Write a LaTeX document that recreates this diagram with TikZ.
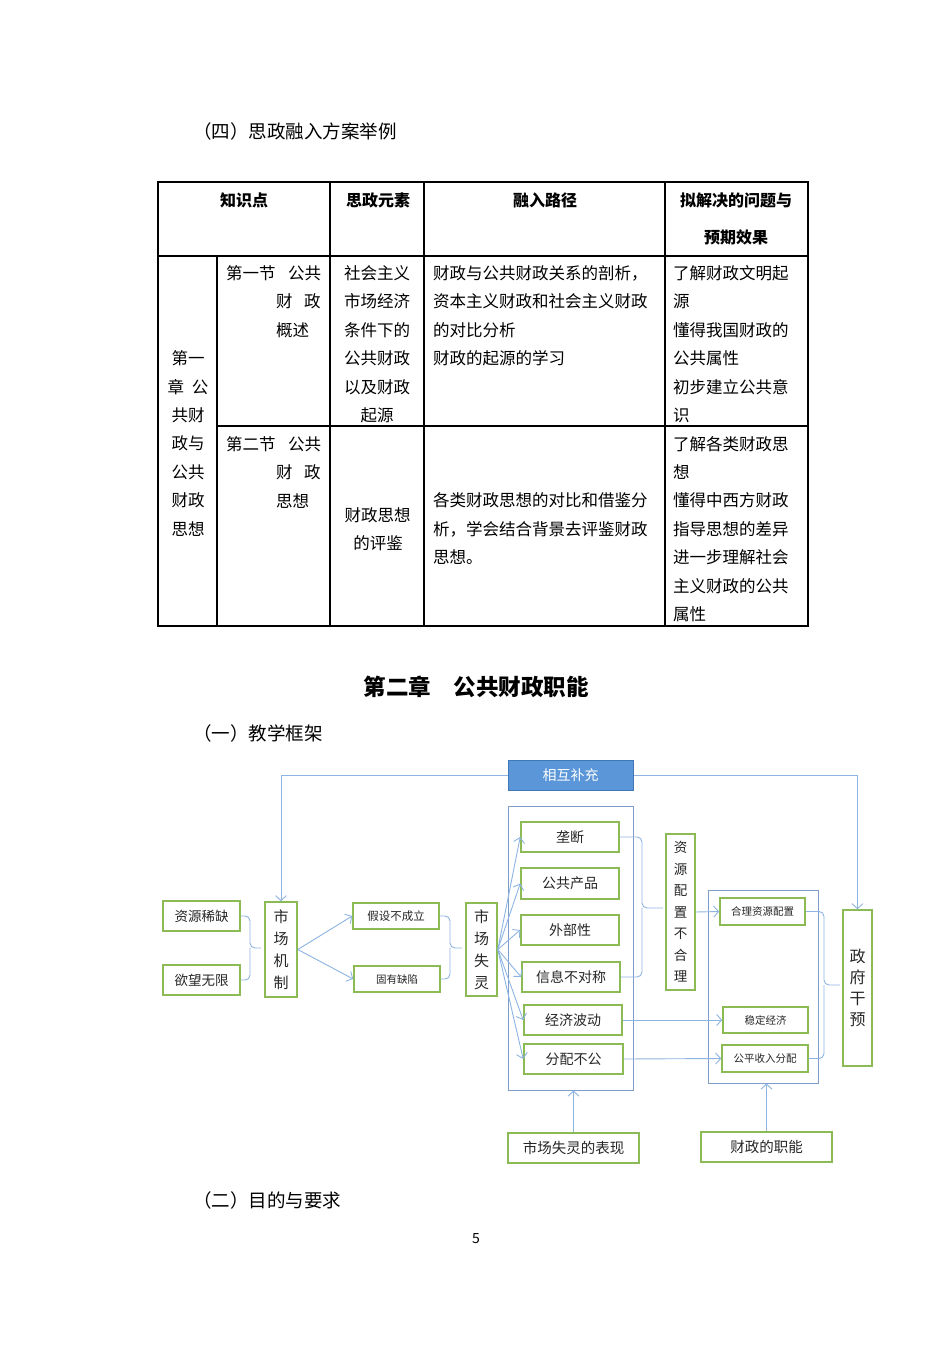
\documentclass[tikz,border=0pt]{standalone}
\usepackage{fontspec}
\usepackage{tikz}
\usetikzlibrary{arrows.meta,positioning,calc}
\setmainfont{Noto Sans CJK SC}
\definecolor{pfLine}{HTML}{8EB4E3}
\definecolor{pfFrame}{HTML}{7F9DC9}
\definecolor{pfGreen}{HTML}{8CBA55}
\definecolor{pfFill}{HTML}{5A96D8}
\definecolor{pfFillEdge}{HTML}{3F78B5}
\definecolor{pfText}{HTML}{262626}
\tikzset{
  pfbox/.style={draw=pfGreen,line width=1.6pt,fill=white,text=pfText,inner sep=0pt,align=center,
                font=\fontsize{14}{16}\selectfont},
  pfsmall/.style={pfbox,font=\fontsize{10.5}{12}\selectfont},
  pfvert/.style={pfbox,font=\fontsize{15}{22}\selectfont},
  pfframe/.style={draw=pfFrame,line width=1pt,inner sep=0pt},
  pftop/.style={draw=pfFillEdge,fill=pfFill,line width=1pt,text=white,inner sep=0pt,
                font=\fontsize{14}{16}\selectfont},
  pfflow/.style={-{Straight Barb[length=5pt,width=11pt]},draw=pfLine,line width=0.9pt},
  pfbrace/.style={draw=pfLine,line width=0.9pt,rounded corners=5pt},
  pfcell/.style={inner sep=0pt,text=black,font=\fontsize{16.5}{18}\selectfont},
  pfhead/.style={pfcell,font=\fontsize{16}{18}\selectfont\bfseries},
  pfpara/.style={inner sep=0pt,text=black,anchor=west,font=\fontsize{18.5}{20}\selectfont},
  pfrule/.style={line width=1.3pt,draw=black},
}

\begin{document}
\begin{tikzpicture}[x=1pt,y=-1pt]
  \fill[white] (0,0) rectangle (952,1347);
  \useasboundingbox (0,0) rectangle (952,1347);

  % section heading
  \node[pfpara] (sec4) at (193,131) {（四）思政融入方案举例};

  % table rules
  \draw[pfrule] (158,182) rectangle (808,626);
  \draw[pfrule] (158,256) -- (808,256);
  \draw[pfrule] (217,426) -- (808,426);
  \draw[pfrule] (217,256) -- (217,626);
  \foreach \x in {330,424,665}{\draw[pfrule] (\x,182) -- (\x,626);}
  \draw[line width=2.2pt] (158,626) -- (808,626);

  % table header
  \node[pfhead] (h1) at (244,200) {知识点};
  \node[pfhead] (h2) at (378,200) {思政元素};
  \node[pfhead] (h3) at (545,200) {融入路径};
  \node[pfhead] (h4) at (736,200) {拟解决的问题与};
  \node[pfhead] (h5) at (736,237) {预期效果};

  % table body
  \foreach \t [count=\i from 3] in {第一,章\hspace{8pt}公,共财,政与,公共,财政,思想}
    {\node[pfcell] (ch\i) at (188,273+28.45*\i) {\t};}
  \node[pfcell,anchor=west] (s1a) at (226,273) {第一节\hspace{12.5pt}公共};
  \node[pfcell,anchor=west] (s1b) at (276,301.45) {财\hspace{11.5pt}政};
  \node[pfcell,anchor=west] (s1c) at (276,329.9) {概述};
  \node[pfcell,anchor=west] (s2a) at (226,443.7) {第二节\hspace{12.5pt}公共};
  \node[pfcell,anchor=west] (s2b) at (276,472.15) {财\hspace{11.5pt}政};
  \node[pfcell,anchor=west] (s2c) at (276,500.6) {思想};
  \foreach \t [count=\i from 0] in {社会主义,市场经济,条件下的,公共财政,以及财政,起源}
    {\node[pfcell] (el\i) at (377,273+28.45*\i) {\t};}
  \node[pfcell] (el6) at (377.5,515) {财政思想};
  \node[pfcell] (el7) at (378,543) {的评鉴};
  \foreach \t [count=\i from 0] in {财政与公共财政关系的剖析，,资本主义财政和社会主义财政,的对比分析,财政的起源的学习}
    {\node[pfcell,anchor=west] (pa\i) at (433,273+28.45*\i) {\t};}
  \foreach \t [count=\i from 8] in {各类财政思想的对比和借鉴分,析，学会结合背景去评鉴财政,思想。}
    {\node[pfcell,anchor=west] (pa\i) at (433,273+28.45*\i) {\t};}
  \foreach \t [count=\i from 0] in {了解财政文明起,源,懂得我国财政的,公共属性,初步建立公共意,识,
      了解各类财政思,想,懂得中西方财政,指导思想的差异,进一步理解社会,主义财政的公共,属性}
    {\node[pfcell,anchor=west] (ef\i) at (673,273+28.45*\i) {\t};}

  % chapter title
  \node[inner sep=0pt,font=\fontsize{22.5}{24}\selectfont\bfseries] (title) at (476,687) {第二章　公共财政职能};
  \node[pfpara] (sec1) at (193,733) {（一）教学框架};

  % framework diagram
  \node[pftop,minimum width=125pt,minimum height=30pt] (mutual) at (570.5,775) {相互补充};
  \node[pfbox,font=\fontsize{13.5}{15}\selectfont,minimum width=77pt,minimum height=30pt] (scarce) at (201.5,916) {资源稀缺};
  \node[pfbox,font=\fontsize{13.5}{15}\selectfont,minimum width=77pt,minimum height=30pt] (desire) at (201.5,980) {欲望无限};
  \node[pfvert,minimum width=32pt,minimum height=95pt] (mech) at (281,949.5) {市\\场\\机\\制};
  \node[pfsmall,font=\fontsize{11.5}{13}\selectfont,minimum width=86pt,minimum height=26pt] (assume) at (396,916) {假设不成立};
  \node[pfsmall,minimum width=86pt,minimum height=26pt] (defect) at (397,979) {固有缺陷};
  \node[pfvert,minimum width=31pt,minimum height=93pt] (fail) at (481.5,949.5) {市\\场\\失\\灵};

  \node[pfframe,minimum width=125pt,minimum height=284pt] (failouter) at (570.5,948) {};
  \node[pfbox,minimum width=98pt,minimum height=30pt] (mono) at (570,837) {垄断};
  \node[pfbox,minimum width=98pt,minimum height=31pt] (pubgood) at (570,883.5) {公共产品};
  \node[pfbox,minimum width=98pt,minimum height=30pt] (extern) at (570,930) {外部性};
  \node[pfbox,minimum width=98pt,minimum height=30pt] (info) at (571,977) {信息不对称};
  \node[pfbox,minimum width=98pt,minimum height=30pt] (cycle) at (573,1020) {经济波动};
  \node[pfbox,minimum width=99pt,minimum height=30pt] (distrib) at (573.5,1059) {分配不公};

  \node[pfvert,font=\fontsize{13.5}{21.5}\selectfont,minimum width=29pt,minimum height=156pt] (misalloc) at (680.5,912) {资\\源\\配\\置\\不\\合\\理};

  \node[pfframe,minimum width=110pt,minimum height=193pt] (funcouter) at (763,986.5) {};
  \node[pfsmall,minimum width=85pt,minimum height=27pt] (alloc) at (762.5,911.5) {合理资源配置};
  \node[pfsmall,minimum width=85pt,minimum height=26pt] (stabil) at (765.5,1020) {稳定经济};
  \node[pfsmall,minimum width=86pt,minimum height=27pt] (equity) at (765,1058.5) {公平收入分配};

  \node[pfvert,font=\fontsize{16}{21}\selectfont,minimum width=29pt,minimum height=156pt] (govt) at (857.5,988) {政\\府\\干\\预};
  \node[pfbox,font=\fontsize{14.5}{16}\selectfont,minimum width=131pt,minimum height=30pt] (failshow) at (573.5,1148) {市场失灵的表现};
  \node[pfbox,font=\fontsize{14.5}{16}\selectfont,minimum width=131pt,minimum height=30pt] (funcshow) at (766.5,1147) {财政的职能};

  \draw[pfflow] (mutual.west) -| (mech.north);
  \draw[pfflow] (mutual.east) -| (govt.north);
  \draw[pfflow] (mech.east) -- (assume.west);
  \draw[pfflow] (mech.east) -- (defect.west);
  \foreach \b in {mono,pubgood,extern,info,cycle,distrib}{\draw[pfflow] (fail.east) -- (\b.west);}
  \draw[pfflow] (misalloc.east) -- (alloc.west);
  \draw[pfflow] (cycle.east) -- (stabil.west);
  \draw[pfflow] (distrib.east) -- (equity.west);
  \draw[pfflow] (failshow.north) -- (failshow.north |- failouter.south);
  \draw[pfflow] (funcshow.north) -- (funcshow.north |- funcouter.south);

  % braces
  \coordinate (br1) at (250,948); \coordinate (br1tip) at (261,948);
  \coordinate (br2) at (450,948); \coordinate (br2tip) at (462,948);
  \coordinate (br3) at (642,908); \coordinate (br3tip) at (663,908);
  \coordinate (br4) at (824,985); \coordinate (br4tip) at (840,985);
  \draw[pfbrace] (scarce.east) -| (br1) -- (br1tip);
  \draw[pfbrace] (desire.east) -| (br1);
  \draw[pfbrace] (assume.east) -| (br2) -- (br2tip);
  \draw[pfbrace] (defect.east) -| (br2);
  \draw[pfbrace] (mono.east) -| (br3) -- (br3tip);
  \draw[pfbrace] (info.east) -| (br3);
  \draw[pfbrace] (alloc.east) -| (br4) -- (br4tip);
  \draw[pfbrace] (equity.east) -| (br4);

  \node[pfpara] (sec2) at (193,1200) {（二）目的与要求};
  \node[inner sep=0pt,font=\fontsize{14}{16}\selectfont] (pageno) at (476,1239) {5};
\end{tikzpicture}
\end{document}
